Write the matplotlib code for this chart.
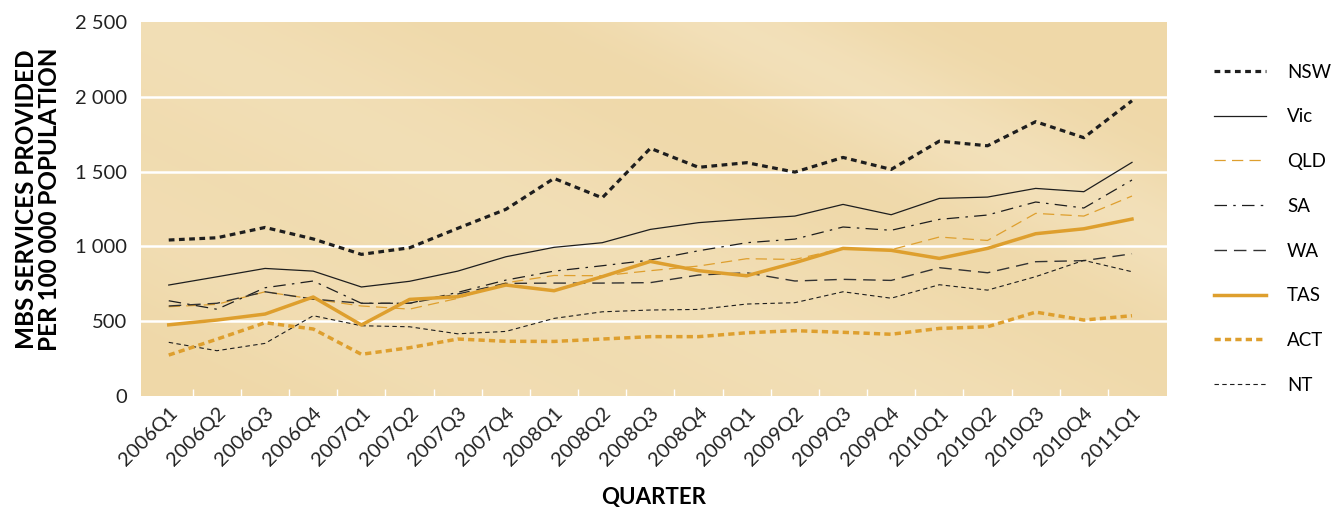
import numpy as np
import matplotlib
matplotlib.use('Agg')
import matplotlib.pyplot as plt
from matplotlib.ticker import FuncFormatter

# ---------- Data ----------
quarters = ['2006Q1', '2006Q2', '2006Q3', '2006Q4',
            '2007Q1', '2007Q2', '2007Q3', '2007Q4',
            '2008Q1', '2008Q2', '2008Q3', '2008Q4',
            '2009Q1', '2009Q2', '2009Q3', '2009Q4',
            '2010Q1', '2010Q2', '2010Q3', '2010Q4', '2011Q1']

nsw = [1043, 1058, 1127, 1050, 947, 991, 1121, 1248, 1455, 1325, 1656,
       1529, 1560, 1497, 1595, 1515, 1704, 1673, 1834, 1727, 1974]
vic = [742, 797, 853, 835, 729, 767, 835, 931, 994, 1025, 1114,
       1159, 1183, 1203, 1281, 1212, 1321, 1330, 1388, 1366, 1562]
qld = [597, 613, 697, 648, 602, 581, 653, 757, 806, 804, 838,
       869, 918, 913, 987, 978, 1063, 1040, 1221, 1203, 1337]
sa = [637, 580, 724, 769, 620, 620, 693, 775, 835, 871, 909,
      971, 1025, 1049, 1130, 1108, 1181, 1210, 1297, 1257, 1444]
wa = [602, 620, 697, 648, 620, 620, 682, 753, 755, 755, 758,
      809, 824, 769, 780, 773, 858, 824, 898, 905, 951]
tas = [476, 508, 548, 662, 475, 646, 664, 742, 704, 798, 900,
       838, 804, 891, 987, 974, 920, 987, 1085, 1118, 1183]
act = [274, 380, 490, 448, 279, 323, 381, 366, 365, 381, 397,
       397, 423, 437, 426, 413, 452, 463, 561, 508, 537]
nt = [359, 303, 352, 537, 470, 463, 416, 432, 519, 563, 575,
      579, 615, 624, 697, 654, 744, 708, 798, 907, 831]

# ---------- Style ----------
plt.rcParams['font.family'] = ['Lato', 'DejaVu Sans']
orange = '#DE9F2E'
dark = '#1E1E1E'

fig = plt.figure(figsize=(13.41, 5.13), dpi=100)
ax = fig.add_axes([0.105, 0.228, 0.765, 0.729])

x = np.arange(len(quarters))

# background: soft tan gradient with lighter diagonal streaks
ny, nx = 200, 600
yy, xx = np.mgrid[0:1:ny * 1j, 0:1:nx * 1j]
d = xx * 0.75 + yy * 0.55
light = 0.35 * np.exp(-((d - 0.55) / 0.18) ** 2) + 0.45 * np.exp(-((d - 0.98) / 0.10) ** 2) \
    + 0.25 * np.exp(-((d - 0.25) / 0.12) ** 2)
light = np.clip(light, 0, 1)
base = np.array([239, 216, 168]) / 255.0
hi = np.array([247, 234, 206]) / 255.0
img = base[None, None, :] * (1 - light[..., None]) + hi[None, None, :] * light[..., None]
ax.imshow(img, extent=[-0.58, 20.72, 0, 2500], aspect='auto', origin='lower', zorder=0)

for g in [500, 1000, 1500, 2000]:
    ax.axhline(g, color='white', lw=1.8, zorder=1)

# ---------- Series ----------
ax.plot(x, nsw, color=dark, lw=2.3, dashes=(1.8, 1.4), label='NSW', zorder=5)
ax.plot(x, vic, color=dark, lw=0.9, label='Vic', zorder=4)
ax.plot(x, qld, color=orange, lw=0.9, dashes=(9, 5), label='QLD', zorder=4)
ax.plot(x, sa, color=dark, lw=0.9, dashes=(10, 5, 2, 5), label='SA', zorder=4)
ax.plot(x, wa, color='#333333', lw=1.0, dashes=(9, 5), label='WA', zorder=4)
ax.plot(x, tas, color=orange, lw=2.5, label='TAS', zorder=5)
ax.plot(x, act, color=orange, lw=2.5, dashes=(1.8, 1.2), label='ACT', zorder=5)
ax.plot(x, nt, color=dark, lw=0.8, dashes=(4, 3), label='NT', zorder=4)

# ---------- Axes ----------
ax.set_xlim(-0.58, 20.72)
ax.set_ylim(0, 2500)
for s in ax.spines.values():
    s.set_visible(False)

ax.set_xticks(x)
ax.set_xticklabels(quarters, rotation=45, ha='right', rotation_mode='anchor',
                   fontsize=14.5, color='#222222')
ax.set_xticks(x[:-1] + 0.5, minor=True)
ax.tick_params(axis='x', which='major', length=0, pad=6)
ax.tick_params(axis='x', which='minor', length=5, direction='in', color='white', width=1)

ax.set_yticks([0, 500, 1000, 1500, 2000, 2500])
ax.yaxis.set_major_formatter(FuncFormatter(lambda v, p: f'{int(v):,}'.replace(',', ' ')))
ax.tick_params(axis='y', length=0, labelsize=14.5, labelcolor='#222222', pad=10)

ax.set_ylabel('MBS SERVICES PROVIDED\nPER 100 000 POPULATION', fontsize=17.5,
              fontweight='bold', linespacing=1.0)
ax.yaxis.set_label_coords(-0.078, 0.525)
ax.set_xlabel('QUARTER', fontsize=16, fontweight='bold')
ax.xaxis.set_label_coords(0.5, -0.243)

fig.legend(loc='upper left', bbox_to_anchor=(0.8925, 0.909), frameon=False,
           fontsize=13.5, handlelength=2.8, labelspacing=1.48, handletextpad=1.1)

fig.savefig('out.png', dpi=100)
